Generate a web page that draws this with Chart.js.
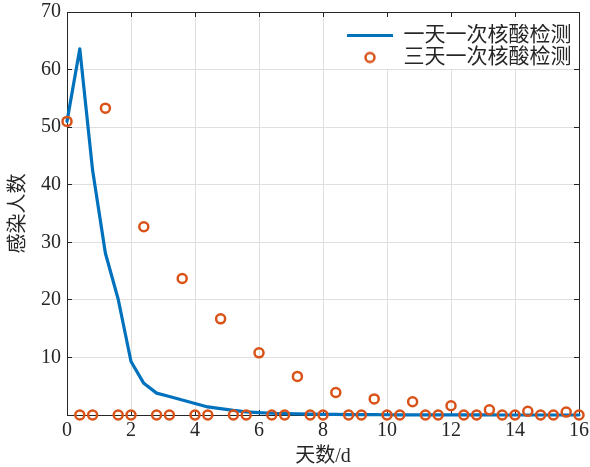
<!DOCTYPE html>
<html><head><meta charset="utf-8">
<script src="https://cdn.jsdelivr.net/npm/chart.js@4"></script>
<style>html,body{margin:0;padding:0;background:#fff;}</style>
</head><body>
<canvas id="c" width="590" height="467" style="display:block;width:590px;height:467px"></canvas>
<script>
// ---- data ----
const days = [0,0.4,0.8,1.2,1.6,2,2.4,2.8,3.2,3.6,4,4.4,4.8,5.2,5.6,6,6.4,6.8,7.2,7.6,8,8.4,8.8,9.2,9.6,10,10.4,10.8,11.2,11.6,12,12.4,12.8,13.2,13.6,14,14.4,14.8,15.2,15.6,16];
const dailyTest = [51,63.6,42.5,28.1,20.1,9.3,5.5,3.8,3.2,2.6,2.0,1.4,1.1,0.8,0.55,0.4,0.3,0.25,0.2,0.15,0.12,0.1,0.08,0.06,0.05,0.04,0.03,0.03,0.02,0.02,0.01,0.01,0.01,0.01,0,0,0,0,0,0,0];
const threeDayTest = [51,0,0,53.3,0,0,32.7,0,0,23.7,0,0,16.7,0,0,10.8,0,0,6.7,0,0,3.9,0,0,2.8,0,0,2.3,0,0,1.6,0,0,0.9,0,0,0.63,0,0,0.5,0];
const seriesNames = ['一天一次核酸检测','三天一次核酸检测'];
const xTickValues = [0,2,4,6,8,10,12,14,16];
const xTickLabels = ['0','2','4','6','8','10','12','14','16'];
const yTickValues = [0,10,20,30,40,50,60,70];
const yTickLabels = ['','10','20','30','40','50','60','70'];
const xTitle = '天数/d';
const yTitle = '感染人数';

// ---- styles ----
const FONT = "'Liberation Serif', 'Times New Roman', 'Noto Sans CJK SC', serif";
const AXIS = '#262626';
const GRID = '#dfdfdf';
const BLUE = '#0072BD';
const ORANGE = '#D95319';

const circleImg = document.createElement('canvas');
circleImg.width = 16; circleImg.height = 16;
(function(){ const g = circleImg.getContext('2d'); g.strokeStyle = ORANGE; g.lineWidth = 2.5; g.beginPath(); g.arc(8, 8, 4.5, 0, Math.PI*2); g.stroke(); })();

const toPts = (ys) => days.map((d, i) => ({x: d, y: ys[i]}));

function setTicks(vals){ return (s) => { s.ticks = vals.map(v => ({value: v})); }; }
function fixSize(prop, val){ return (s) => { s[prop] = val; s.paddingTop = 0; s.paddingBottom = 0; s.paddingLeft = 0; s.paddingRight = 0; }; }

const baseGrid = { color: GRID, lineWidth: 1, tickColor: AXIS, tickLength: -5, drawTicks: true, z: -1 };
const border = { display: true, color: AXIS, width: 1 };

const legendPlacer = {
  id: 'legendPlacer',
  afterLayout(chart) {
    const lg = chart.legend, ca = chart.chartArea;
    lg.left = ca.right - 233; lg.right = ca.right;
    lg.top = ca.top + 12; lg.bottom = ca.bottom;
  },
  beforeDatasetsDraw(chart) {
    const ctx = chart.ctx, ca = chart.chartArea;
    ctx.save(); ctx.fillStyle = '#ffffff';
    ctx.fillRect(ca.right - 241, ca.top + 1, 240, 56);
    ctx.restore();
    chart.legend.draw();
    chart.scales.x2.drawGrid(ca);
    chart.scales.y2.drawGrid(ca);
  }
};

new Chart(document.getElementById('c'), {
  type: 'scatter',
  data: {
    datasets: [
      { type: 'line', label: seriesNames[0], data: toPts(dailyTest), borderColor: BLUE, backgroundColor: BLUE,
        borderWidth: 3.2, pointRadius: 0, pointHoverRadius: 0, tension: 0, fill: false, clip: false,
        borderJoinStyle: 'round', borderCapStyle: 'round', order: 2 },
      { type: 'scatter', label: seriesNames[1], data: toPts(threeDayTest), borderColor: ORANGE,
        backgroundColor: 'rgba(0,0,0,0)', pointBorderWidth: 2.5, pointRadius: 4.5, pointHoverRadius: 4.5,
        showLine: false, clip: false, order: 1 }
    ]
  },
  options: {
    responsive: false, animation: false, devicePixelRatio: 1,
    layout: { autoPadding: false, padding: { left: 0, right: 11, top: 12, bottom: 0 } },
    scales: {
      x: { type: 'linear', position: 'bottom', min: 0, max: 16,
        afterBuildTicks: setTicks(xTickValues),
        afterFit: fixSize('height', 52),
        grid: baseGrid, border,
        ticks: { color: AXIS, padding: 9, maxRotation: 0, autoSkip: false,
          font: { family: FONT, size: 20, lineHeight: 1.2 },
          callback: (v, i) => xTickLabels[i] },
        title: { display: true, text: xTitle, color: AXIS, padding: { top: 0, bottom: 0 },
          font: { family: FONT, size: 20, lineHeight: 1 } } },
      y: { type: 'linear', position: 'left', min: 0, max: 70,
        afterBuildTicks: setTicks(yTickValues),
        afterFit: fixSize('width', 67),
        grid: baseGrid, border,
        ticks: { color: AXIS, padding: 11, autoSkip: false,
          font: { family: FONT, size: 20, lineHeight: 1.2 },
          callback: (v, i) => yTickLabels[i] },
        title: { display: true, text: yTitle, color: AXIS, padding: { top: 8.5, bottom: 0 },
          font: { family: FONT, size: 20, lineHeight: 1 } } },
      x2: { type: 'linear', position: 'top', min: 0, max: 16,
        afterBuildTicks: setTicks(xTickValues),
        afterFit: fixSize('height', 0),
        grid: Object.assign({}, baseGrid, { drawOnChartArea: false }), border,
        ticks: { display: false } },
      y2: { type: 'linear', position: 'right', min: 0, max: 70,
        afterBuildTicks: setTicks(yTickValues),
        afterFit: fixSize('width', 0),
        grid: Object.assign({}, baseGrid, { drawOnChartArea: false }), border,
        ticks: { display: false } }
    },
    plugins: {
      tooltip: { enabled: false },
      legend: {
        position: 'chartArea', align: 'start',
        labels: {
          usePointStyle: true, pointStyleWidth: 46, padding: 1, color: AXIS,
          font: { family: FONT, size: 21, lineHeight: 1 },
          generateLabels(chart) {
            const items = Chart.defaults.plugins.legend.labels.generateLabels(chart);
            items.sort((a, b) => a.datasetIndex - b.datasetIndex);
            items.forEach(it => {
              if (it.datasetIndex === 0) { it.pointStyle = 'line'; it.strokeStyle = BLUE; it.lineWidth = 3.2; }
              else { it.pointStyle = circleImg; }
            });
            return items;
          }
        }
      }
    }
  },
  plugins: [legendPlacer]
});
</script>
</body></html>
